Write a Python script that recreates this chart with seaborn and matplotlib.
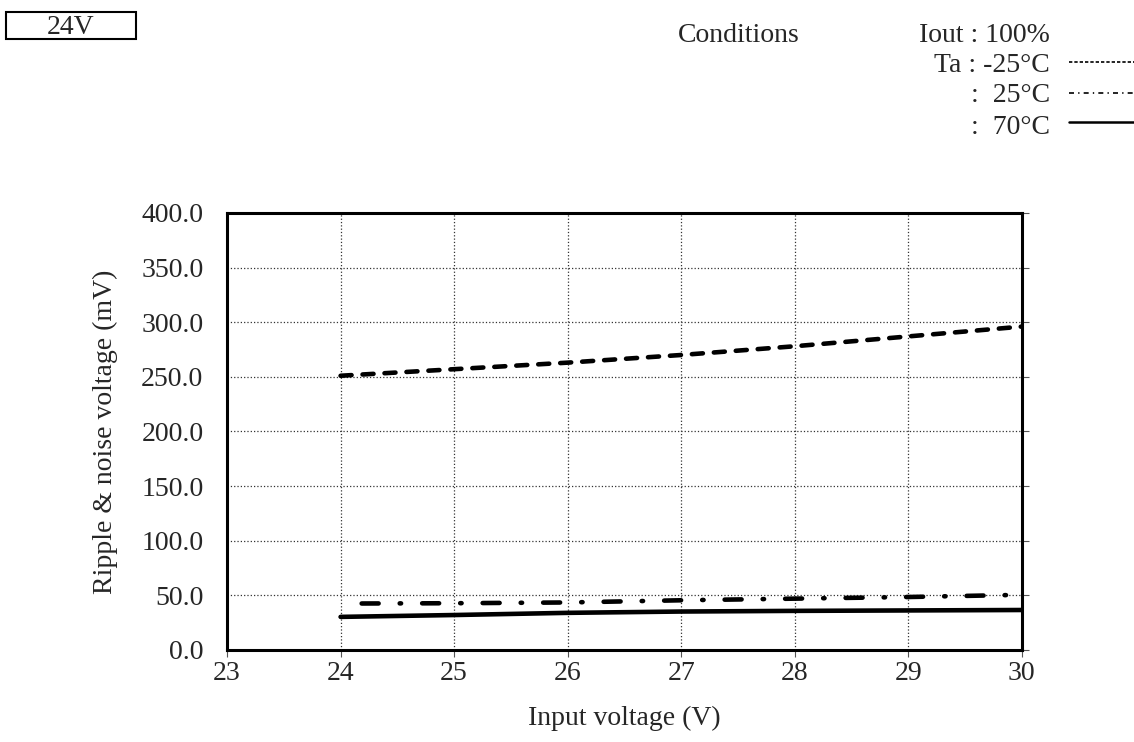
import pandas as pd
import matplotlib
matplotlib.use('Agg')
import matplotlib.pyplot as plt
import seaborn as sns

# input voltage (V)
vin = [24, 25, 26, 27, 28, 29, 30]
# ripple & noise (mV) per ambient temperature
ripple_m25 = [251, 257, 263, 270, 278, 287, 296]
ripple_25 = [42.5, 42.8, 43.5, 45.5, 47.0, 48.5, 50.5]
ripple_70 = [30.3, 32.0, 34.0, 35.2, 35.8, 36.2, 36.6]
temps = ['-25°C', '25°C', '70°C']

df = pd.DataFrame({
    'Vin': vin * 3,
    'Ripple': ripple_m25 + ripple_25 + ripple_70,
    'Ta': [temps[0]] * 7 + [temps[1]] * 7 + [temps[2]] * 7,
})

sns.set_style('white')
plt.rcParams['font.family'] = ['Liberation Serif', 'DejaVu Serif']
FS = 20

fig = plt.figure(figsize=(11.34, 7.42), dpi=100)
ax = fig.add_axes([0.2002, 0.124, 0.7009, 0.589])

styles = {
    temps[0]: (0, (2.4, 2.4)),
    temps[1]: (8.6, (3.7, 4.6, 0.3, 4.6)),
    temps[2]: '-',
}
for t in temps:
    sub = df[df['Ta'] == t]
    sns.lineplot(data=sub, x='Vin', y='Ripple', ax=ax, color='black',
                 linewidth=3.3, linestyle=styles[t], solid_capstyle='round',
                 dash_capstyle='round')

ax.set_xlim(23, 30)
ax.set_ylim(0, 400)
ax.set_xticks(range(23, 31))
ax.set_yticks(range(0, 401, 50))
ax.set_yticklabels([f'{v:.1f}' for v in range(0, 401, 50)])
ax.grid(True, linestyle=':', color='#333333', linewidth=0.9)
ax.set_axisbelow(True)

for s in ax.spines.values():
    s.set_visible(True)
    s.set_linewidth(2.2)
    s.set_color('black')

ax.tick_params(axis='both', labelsize=FS, direction='out', length=5,
               width=0.8, color='#555555')
ax.tick_params(axis='y', left=False, right=True, labelleft=True, pad=12)
ax.tick_params(axis='x', bottom=True, pad=3)

ax.set_xlabel('Input voltage (V)', fontsize=FS, labelpad=14)
ax.set_ylabel('Ripple & noise voltage (mV)', fontsize=FS, labelpad=17)

# model box
fig.add_artist(plt.Rectangle((6 / 1134, 1 - 39 / 742), 130 / 1134, 27 / 742,
                             transform=fig.transFigure, fill=False,
                             ec='black', lw=1.5))
fig.text(71 / 1134, 1 - 34 / 742, '24V', fontsize=FS, ha='center',
         va='baseline')

# conditions block
fig.text(678 / 1134, 1 - 35 / 742, 'Conditions', fontsize=FS, ha='left',
         va='center')
fig.text(1050 / 1134, 1 - 35 / 742, 'Iout : 100%', fontsize=FS, ha='right',
         va='center')
labels = ['Ta : -25°C', ':  25°C', ':  70°C']
ys = [66, 96, 127]
line_y = [62, 93, 122]
for t, lab, y, ly in zip(temps, labels, ys, line_y):
    fig.text(1050 / 1134, 1 - y / 742, lab, fontsize=FS, ha='right',
             va='center')
    if t == temps[0]:
        ls, lw = (0, (2.0, 1.2)), 1.2
    elif t == temps[1]:
        ls, lw = (0, (3.0, 2.5, 0.8, 2.5)), 1.2
    else:
        ls, lw = '-', 1.8
    fig.add_artist(plt.Line2D([1069 / 1134, 1.0], [1 - ly / 742, 1 - ly / 742],
                              color='black', linewidth=lw, linestyle=ls,
                              transform=fig.transFigure))

fig.savefig('out.png', dpi=100)
